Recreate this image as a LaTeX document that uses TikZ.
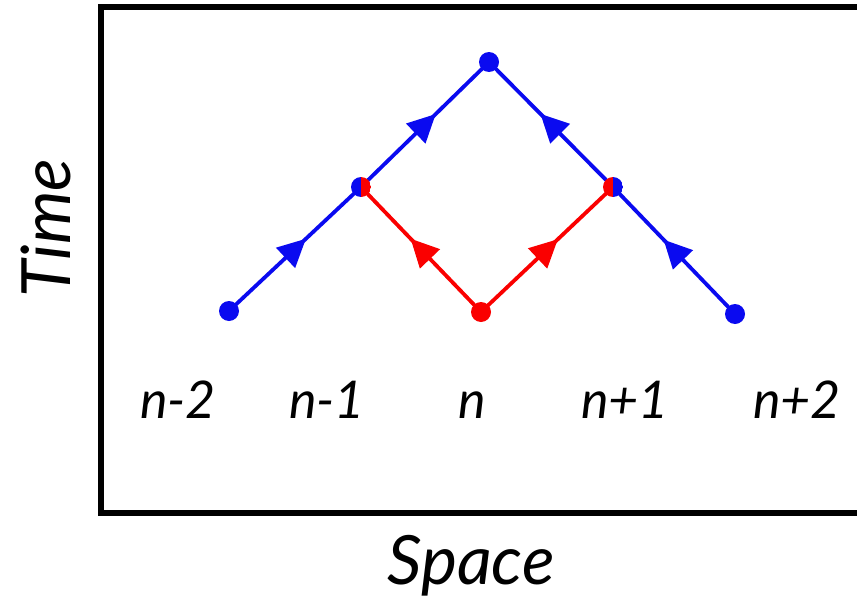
\documentclass[tikz,border=0pt]{standalone}
\usepackage{fontspec}
\setmainfont{Lato}
\usetikzlibrary{arrows.meta,decorations.markings}
\definecolor{pblue}{RGB}{10,10,240}
\definecolor{pred}{RGB}{250,0,0}
\tikzset{
  edge/.style={line width=3.8pt,postaction={decorate},
    decoration={markings,mark=at position 0.5 with {\arrow[xshift=15pt]{Triangle[length=28pt,width=27pt]}}}},
  dot/.style={circle,inner sep=0pt,minimum size=20pt},
  lab/.style={font=\fontsize{52}{52}\selectfont\itshape,anchor=base},
  axis/.style={font=\fontsize{68}{68}\selectfont\itshape}
}
\begin{document}
\begin{tikzpicture}[x=1pt,y=-1pt]
\useasboundingbox (0,0) rectangle (857,613);
\fill[white] (0,0) rectangle (857,613);
\begin{scope}
\clip (0,0) rectangle (857,613);
\draw[line width=6pt] (101,7) rectangle (920,513);
\end{scope}
\coordinate (top) at (489,62);
\coordinate (lm) at (361,187);
\coordinate (rm) at (613,187);
\coordinate (bl) at (229,311);
\coordinate (bc) at (481,312);
\coordinate (br) at (735,314);
\draw[edge,pblue] (bl) -- (lm);
\draw[edge,pblue] (lm) -- (top);
\draw[edge,pblue] (br) -- (rm);
\draw[edge,pblue] (rm) -- (top);
\draw[edge,pred] (bc) -- (lm);
\draw[edge,pred] (bc) -- (rm);
\node[dot,fill=pblue] (ntop) at (top) {};
\node[dot,fill=pblue] (nbl) at (bl) {};
\node[dot,fill=pblue] (nbr) at (br) {};
\node[dot,fill=pred] (nbc) at (bc) {};
\node[dot,path picture={
  \fill[pblue] (path picture bounding box.south west) rectangle (path picture bounding box.north);
  \fill[pred] (path picture bounding box.south) rectangle (path picture bounding box.north east);}] (nlm) at (lm) {};
\node[dot,path picture={
  \fill[pred] (path picture bounding box.south west) rectangle (path picture bounding box.north);
  \fill[pblue] (path picture bounding box.south) rectangle (path picture bounding box.north east);}] (nrm) at (rm) {};
\node[lab] (l1) at (178,418) {n-2};
\node[lab] (l2) at (327,418) {n-1};
\node[lab] (l3) at (472,418) {n};
\node[lab] (l4) at (625,418) {n+1};
\node[lab] (l5) at (797,418) {n+2};
\node[axis,rotate=90] (time) at (46,228) {Time};
\node[axis] (space) at (471,566) {Space};
\end{tikzpicture}
\end{document}
